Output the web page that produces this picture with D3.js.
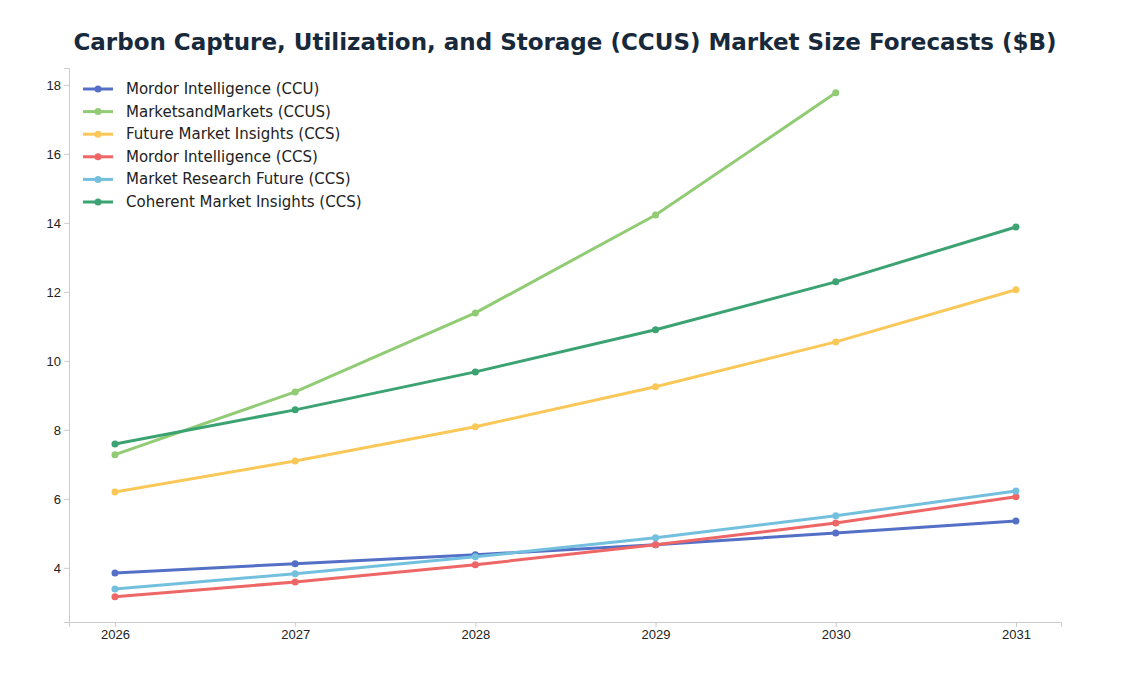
<!DOCTYPE html><html><head><meta charset="utf-8"><script src="https://cdn.jsdelivr.net/npm/d3@7"></script>
<style>body{margin:0;background:#fff;font-family:"DejaVu Sans",sans-serif}</style></head><body><svg id="c" width="1130" height="676"></svg>
<script>
const years=[2026,2027,2028,2029,2030,2031];
const seriesNames=["Mordor Intelligence (CCU)","MarketsandMarkets (CCUS)","Future Market Insights (CCS)","Mordor Intelligence (CCS)","Market Research Future (CCS)","Coherent Market Insights (CCS)"];
const colors=["#5470c6","#91cc75","#fac858","#ee6666","#73c0de","#3ba272"];
const mordorCCU=[3.85,4.12,4.38,4.67,5.01,5.36];
const marketsandMarkets=[7.28,9.10,11.39,14.23,17.77,null];
const futureMI=[6.20,7.10,8.09,9.25,10.55,12.06];
const mordorCCS=[3.16,3.59,4.09,4.67,5.30,6.06];
const mrf=[3.39,3.83,4.32,4.87,5.51,6.23];
const coherent=[7.59,8.58,9.68,10.90,12.29,13.88];
const yTicks=[4,6,8,10,12,14,16,18];
const data=[mordorCCU,marketsandMarkets,futureMI,mordorCCS,mrf,coherent];
const svg=d3.select("#c");
const x=d3.scaleLinear().domain([2025.745,2031.25]).range([69,1061]);
const y=d3.scaleLinear().domain([2.43,18.49]).range([622,68]);
svg.append("text").attr("x",565).attr("y",50).attr("text-anchor","middle").attr("font-size",23).attr("font-weight","bold").attr("fill","#17293a").text("Carbon Capture, Utilization, and Storage (CCUS) Market Size Forecasts ($B)");
const gx=svg.append("g").attr("transform","translate(0,622)").call(d3.axisBottom(x).tickValues(years).tickFormat(d3.format("d")).tickSize(5));
const gy=svg.append("g").attr("transform","translate(69,0)").call(d3.axisLeft(y).tickValues(yTicks).tickSize(5));
[gx,gy].forEach(g=>{g.selectAll("path,line").attr("stroke","#ccc");g.selectAll("text").attr("font-size",13).attr("fill","#222");});
const line=d3.line().defined(d=>d[1]!=null).x(d=>x(d[0])).y(d=>y(d[1]));
data.forEach((s,i)=>{
 const pts=years.map((yr,j)=>[yr,s[j]]);
 svg.append("path").attr("d",line(pts)).attr("fill","none").attr("stroke",colors[i]).attr("stroke-width",3);
 svg.selectAll(null).data(pts.filter(p=>p[1]!=null)).enter().append("circle").attr("cx",p=>x(p[0])).attr("cy",p=>y(p[1])).attr("r",3.5).attr("fill",colors[i]);
});
const lg=svg.append("g").attr("transform","translate(83,89)");
seriesNames.forEach((n,i)=>{
 const g=lg.append("g").attr("transform",`translate(0,${i*22.6})`);
 g.append("line").attr("x1",0).attr("x2",30).attr("stroke",colors[i]).attr("stroke-width",3);
 g.append("circle").attr("cx",15).attr("r",3.5).attr("fill",colors[i]);
 g.append("text").attr("x",43).attr("y",5).attr("font-size",15).attr("fill","#222").text(n);
});
</script></body></html>
